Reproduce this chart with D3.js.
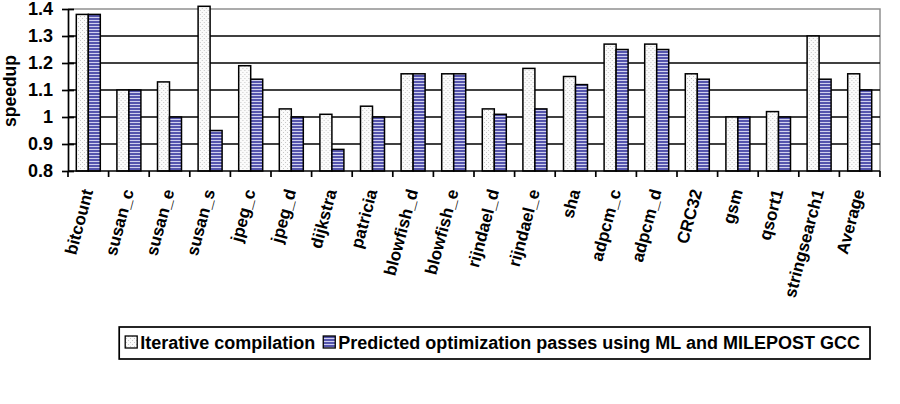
<!DOCTYPE html>
<html>
<head>
<meta charset="utf-8">
<script src="https://cdn.jsdelivr.net/npm/d3@7"></script>
<style>
  body { margin: 0; background: #fff; }
  svg { font-family: Arial, "Liberation Sans", sans-serif; font-weight: bold; }
</style>
</head>
<body>
<svg width="900" height="404"></svg>
<script>
// data
const categories = ['bitcount', 'susan_c', 'susan_e', 'susan_s', 'jpeg_c', 'jpeg_d', 'dijkstra', 'patricia',
    'blowfish_d', 'blowfish_e', 'rijndael_d', 'rijndael_e', 'sha', 'adpcm_c', 'adpcm_d', 'CRC32', 'gsm',
    'qsort1', 'stringsearch1', 'Average'];
const iterative = [1.38, 1.10, 1.13, 1.41, 1.19, 1.03, 1.01, 1.04, 1.16, 1.16, 1.03, 1.18, 1.15, 1.27, 1.27, 1.16, 1.00, 1.02, 1.30, 1.16];
const predicted = [1.38, 1.10, 1.00, 0.95, 1.14, 1.00, 0.88, 1.00, 1.16, 1.16, 1.01, 1.03, 1.12, 1.25, 1.25, 1.14, 1.00, 1.00, 1.14, 1.10];
const seriesNames = ['Iterative compilation', 'Predicted optimization passes using ML and MILEPOST GCC'];
const yTicks = [0.8, 0.9, 1.0, 1.1, 1.2, 1.3, 1.4];

const svg = d3.select('svg');
const mLeft = 68, mRight = 880, mTop = 9, mBottom = 171;

// patterns
const defs = svg.append('defs');
const dots = defs.append('pattern').attr('id', 'dots')
    .attr('width', 4).attr('height', 4).attr('patternUnits', 'userSpaceOnUse');
dots.append('rect').attr('width', 4).attr('height', 4).attr('fill', '#fbfbfb');
dots.append('rect').attr('x', 0).attr('y', 0).attr('width', 1).attr('height', 1).attr('fill', '#c8c8c8');
dots.append('rect').attr('x', 2).attr('y', 2).attr('width', 1).attr('height', 1).attr('fill', '#c8c8c8');
const stripes = defs.append('pattern').attr('id', 'stripes')
    .attr('width', 4).attr('height', 3).attr('patternUnits', 'userSpaceOnUse');
stripes.append('rect').attr('width', 4).attr('height', 3).attr('fill', '#5555ad');
stripes.append('rect').attr('y', 2).attr('width', 4).attr('height', 1).attr('fill', '#d0d0ee');

const fills = ['url(#dots)', 'url(#stripes)'];

const x = d3.scaleBand().domain(categories).range([mLeft, mRight]);
const y = d3.scaleLinear().domain([0.8, 1.4]).range([mBottom, mTop]);
const bw = x.bandwidth();
const x1 = d3.scaleBand().domain([0, 1]).range([bw / 2 - 12, bw / 2 + 12]);

// plot frame (gray top/right)
svg.append('path')
    .attr('d', `M${mLeft},${mTop}H${mRight}V${mBottom}`)
    .attr('fill', 'none').attr('stroke', '#909090').attr('stroke-width', 1.5);

// gridlines
svg.append('g').selectAll('line')
    .data(yTicks.filter(t => t > 0.8 && t < 1.4))
    .enter().append('line')
    .attr('x1', mLeft).attr('x2', mRight)
    .attr('y1', d => y(d)).attr('y2', d => y(d))
    .attr('stroke', '#000').attr('stroke-width', 1.7);

// bars
const groups = svg.append('g').selectAll('g')
    .data(categories.map((c, i) => ({c, vals: [iterative[i], predicted[i]]})))
    .enter().append('g')
    .attr('transform', d => `translate(${x(d.c)},0)`);
groups.selectAll('rect')
    .data(d => d.vals)
    .enter().append('rect')
    .attr('x', (d, i) => x1(i))
    .attr('width', x1.bandwidth())
    .attr('y', d => y(d))
    .attr('height', d => mBottom - y(d))
    .attr('fill', (d, i) => fills[i])
    .attr('stroke', '#000').attr('stroke-width', 1.5);

// y axis
const yAxis = svg.append('g')
    .attr('transform', `translate(${mLeft},0)`)
    .call(d3.axisLeft(y).tickValues(yTicks).tickFormat(d => d === 1 ? '1' : d3.format('.1f')(d)).tickSizeInner(6).tickSizeOuter(0));
yAxis.select('.domain').attr('stroke', '#000').attr('stroke-width', 1.7);
yAxis.selectAll('.tick line').attr('x1', -6).attr('x2', 6).attr('stroke', '#000').attr('stroke-width', 1.7);
yAxis.selectAll('.tick text').attr('x', -15).attr('font-size', 18).attr('font-weight', 'bold')
    .attr('font-family', 'Arial, "Liberation Sans", sans-serif').attr('fill', '#000');

svg.append('text')
    .attr('transform', `translate(16,91) rotate(-90)`)
    .attr('text-anchor', 'middle')
    .attr('font-size', 17.5)
    .text('speedup');

// x axis
svg.append('line').attr('x1', mLeft).attr('x2', mRight).attr('y1', mBottom).attr('y2', mBottom)
    .attr('stroke', '#000').attr('stroke-width', 1.7);
svg.append('g').selectAll('line')
    .data(categories.concat(['__end']))
    .enter().append('line')
    .attr('x1', (d, i) => mLeft + i * bw).attr('x2', (d, i) => mLeft + i * bw)
    .attr('y1', mBottom).attr('y2', mBottom + 6)
    .attr('stroke', '#000').attr('stroke-width', 1.7);
svg.append('g').selectAll('text')
    .data(categories)
    .enter().append('text')
    .attr('transform', d => `translate(${x(d) + bw / 2 + 5},${mBottom + 20}) rotate(-75)`)
    .attr('text-anchor', 'end')
    .attr('font-size', 17)
    .text(d => d);

// legend (laid out from the right edge of the box)
const lg = svg.append('g');
const box = lg.append('rect').attr('y', 327).attr('height', 32)
    .attr('fill', '#fff').attr('stroke', '#000').attr('stroke-width', 1.7);
const items = seriesNames.map((name, i) => {
    const sw = lg.append('rect').attr('y', 336).attr('width', 12).attr('height', 12)
        .attr('fill', fills[i]).attr('stroke', '#000').attr('stroke-width', 1.3);
    const t = lg.append('text').attr('y', 349).attr('font-size', 18).text(name);
    return {sw, t, w: t.node().getComputedTextLength()};
});
let lx = 870 - 10;
for (let i = items.length - 1; i >= 0; i--) {
    lx -= items[i].w;
    items[i].t.attr('x', lx);
    lx -= 15;
    items[i].sw.attr('x', lx);
    lx -= 8;
}
box.attr('x', lx + 2).attr('width', 870 - lx - 2);
</script>
</body>
</html>
